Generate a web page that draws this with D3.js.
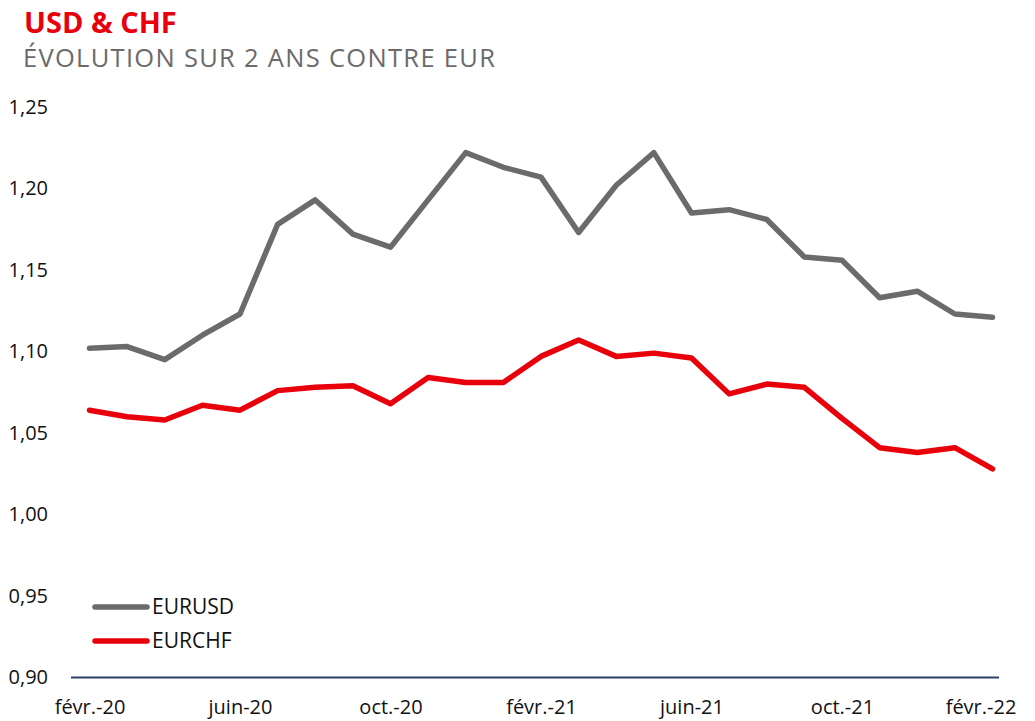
<!DOCTYPE html>
<html>
<head>
<meta charset="utf-8">
<script src="https://cdn.jsdelivr.net/npm/d3@7"></script>
<style>
  html, body { margin: 0; padding: 0; background: #fff; }
  svg { display: block; font-family: "Open Sans", "Noto Sans", sans-serif; }
</style>
</head>
<body>
<svg id="chart" width="1035" height="721"></svg>
<script>
const months = ["févr.-20","mars-20","avr.-20","mai-20","juin-20","juil.-20","août-20","sept.-20","oct.-20","nov.-20","déc.-20","janv.-21",
  "févr.-21","mars-21","avr.-21","mai-21","juin-21","juil.-21","août-21","sept.-21","oct.-21","nov.-21","déc.-21","janv.-22","févr.-22"];
const eurusd = [1.102, 1.103, 1.095, 1.110, 1.123, 1.178, 1.193, 1.172, 1.164, 1.193, 1.222, 1.213,
  1.207, 1.173, 1.202, 1.222, 1.185, 1.187, 1.181, 1.158, 1.156, 1.133, 1.137, 1.123, 1.121];
const eurchf = [1.064, 1.060, 1.058, 1.067, 1.064, 1.076, 1.078, 1.079, 1.068, 1.084, 1.081, 1.081,
  1.097, 1.107, 1.097, 1.099, 1.096, 1.074, 1.080, 1.078, 1.059, 1.041, 1.038, 1.041, 1.028];
const yTicks = [0.90, 0.95, 1.00, 1.05, 1.10, 1.15, 1.20, 1.25];
const xTickIdx = [0, 4, 8, 12, 16, 20, 24];
const seriesNames = ["EURUSD", "EURCHF"];
const seriesColors = ["#6b6b6b", "#e8000b"];

const svg = d3.select("#chart");

// Titles
svg.append("text").attr("x", 24).attr("y", 33)
  .attr("font-size", 29).attr("font-weight", 700).attr("fill", "#e8000b")
  .text("USD & CHF");
svg.append("text").attr("x", 23).attr("y", 67)
  .attr("font-size", 25.5).attr("letter-spacing", 1.3).attr("fill", "#6b6b6b")
  .text("ÉVOLUTION SUR 2 ANS CONTRE EUR");

const x = d3.scaleLinear().domain([0, months.length - 1]).range([89.5, 992.5]);
const y = d3.scaleLinear().domain([0.90, 1.25]).range([677.5, 107]);

// Y axis (labels only)
const fmt = d => d3.format(".2f")(d).replace(".", ",");
const yAxis = svg.append("g").attr("transform", "translate(48,0)")
  .call(d3.axisLeft(y).tickValues(yTicks).tickFormat(fmt).tickSize(0).tickPadding(0));
yAxis.select(".domain").remove();
yAxis.selectAll("text").attr("font-size", 20).attr("fill", "#111")
  .attr("font-family", "'Open Sans', 'Noto Sans', sans-serif");

// X axis
const xAxis = svg.append("g").attr("transform", "translate(0,677.5)")
  .call(d3.axisBottom(x).tickValues(xTickIdx).tickFormat(i => months[i]).tickSize(0).tickPadding(22));
xAxis.select(".domain").remove();
xAxis.selectAll("text").attr("font-size", 20).attr("fill", "#111")
  .attr("font-family", "'Open Sans', 'Noto Sans', sans-serif");
xAxis.selectAll(".tick").filter(d => d === months.length - 1).select("text").attr("dx", -12);

// baseline
svg.append("line").attr("x1", 71).attr("x2", 999).attr("y1", y(0.90)).attr("y2", y(0.90))
  .attr("stroke", "#2f3e6b").attr("stroke-width", 2);

// Lines
const line = d3.line().x((d, i) => x(i)).y(d => y(d));
[eurusd, eurchf].forEach((s, k) => {
  svg.append("path").datum(s).attr("d", line)
    .attr("fill", "none").attr("stroke", seriesColors[k]).attr("stroke-width", 5.5)
    .attr("stroke-linejoin", "round").attr("stroke-linecap", "round");
});

// Legend
const legend = svg.append("g");
seriesNames.forEach((n, k) => {
  const ly = 607 + k * 34;
  legend.append("line").attr("x1", 95).attr("x2", 147).attr("y1", ly).attr("y2", ly)
    .attr("stroke", seriesColors[k]).attr("stroke-width", 5.5).attr("stroke-linecap", "round");
  legend.append("text").attr("x", 152).attr("y", ly).attr("dy", "0.35em")
    .attr("font-size", 21).attr("fill", "#111").text(n);
});
</script>
</body>
</html>
